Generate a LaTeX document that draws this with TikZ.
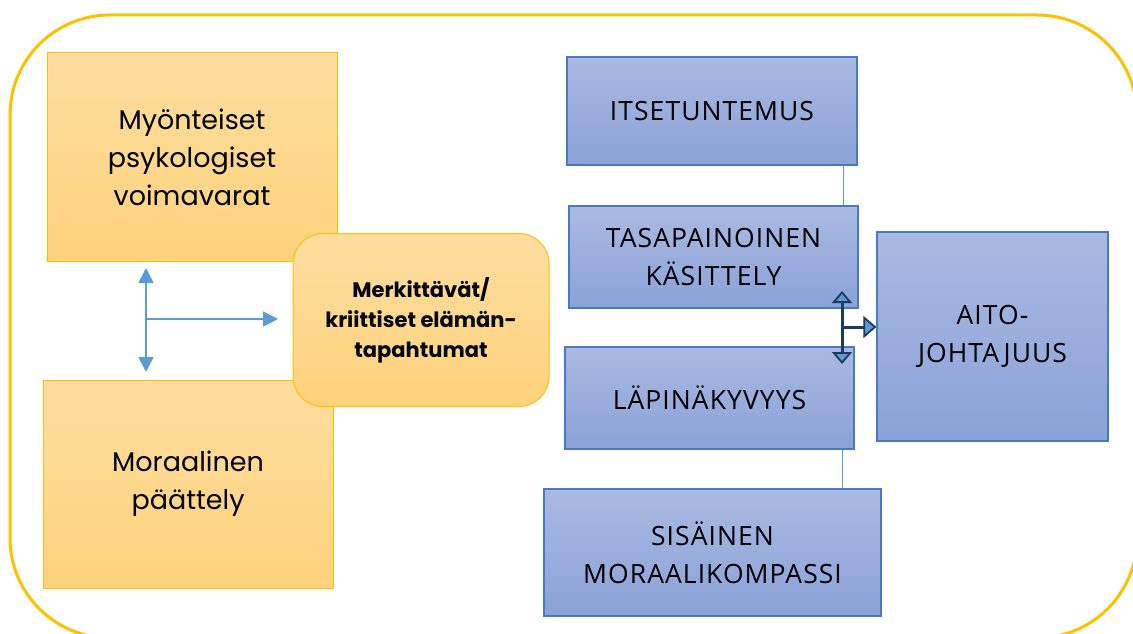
\documentclass[tikz,border=0pt]{standalone}
\usepackage{fontspec}
\setmainfont{Poppins}
\newfontfamily\bluefont[LetterSpace=4]{Open Sans}
\usetikzlibrary{arrows.meta}
\definecolor{gold}{HTML}{FFC000}
\definecolor{otop}{HTML}{FDDD9F}
\definecolor{obot}{HTML}{FED27C}
\definecolor{btop}{HTML}{AAB9E1}
\definecolor{bbot}{HTML}{8AA2D8}
\definecolor{bborder}{HTML}{4A78C8}
\definecolor{arrblue}{HTML}{5B9BD5}
\definecolor{darkarr}{HTML}{1F3A5F}
\tikzset{
  obox/.style={draw=gold, line width=1pt, top color=otop, bottom color=obot,
    inner sep=0pt, align=center, font=\fontsize{27}{38}\selectfont},
  bbox/.style={draw=bborder, line width=1.2pt, top color=btop, bottom color=bbot,
    inner sep=0pt, align=center, font=\bluefont\fontsize{26.5}{38}\selectfont},
  ltip/.tip={Triangle[length=15pt,width=15pt]},
  dtip/.tip={Triangle[length=12pt,width=20pt,fill=arrblue,line width=1.8pt]},
  dtipr/.tip={Triangle[length=13pt,width=22pt,fill=arrblue,line width=1.8pt]},
  larr/.style={draw=arrblue, line width=1.5pt, ltip-ltip},
  rarr/.style={draw=arrblue, line width=1.5pt, -ltip},
  conn/.style={draw=arrblue, line width=0.9pt}
}
\begin{document}
\begin{tikzpicture}[x=1pt,y=-1pt]
\useasboundingbox (0,0) rectangle (1133,634);
\draw[gold, line width=3pt, rounded corners=100pt] (10,15) rectangle (1137,638);
% left boxes
\node[obox, minimum width=290pt, minimum height=208pt] (myo) at (192,157) {Myönteiset\\psykologiset\\voimavarat};
\node[obox, minimum width=290pt, minimum height=208pt] (mor) at (188,484) {Moraalinen\\päättely};
\node[obox, rounded corners=30pt, minimum width=256pt, minimum height=173pt,
  font=\bfseries\fontsize{21}{30}\selectfont] (mer) at (421,320) {Merkittävät/\\kriittiset elämän-\\tapahtumat};
% left arrows
\coordinate (lt) at (146,268);
\coordinate (lb) at (146,372);
\coordinate (lj) at (146,319);
\coordinate (lr) at (278,319);
\draw[larr] (lt) -- (lb);
\draw[rarr] (lj) -- (lr);
% blue boxes
\node[bbox, minimum width=290pt, minimum height=108pt] (its) at (712,111) {ITSETUNTEMUS};
\node[bbox, minimum width=289pt, minimum height=102pt] (tas) at (713.5,257) {TASAPAINOINEN\\KÄSITTELY};
\node[bbox, minimum width=231pt, minimum height=209pt] (aito) at (992.5,336.5) {AITO-\\JOHTAJUUS};
\node[bbox, minimum width=289pt, minimum height=102pt] (lap) at (709.5,398) {LÄPINÄKYVYYS};
\node[bbox, minimum width=337pt, minimum height=127pt] (sis) at (712.5,552.5) {SISÄINEN\\MORAALIKOMPASSI};
% connectors
\coordinate (c1) at (843,0);
\coordinate (c2) at (842,0);
\draw[conn] (c1 |- its.south) -- (c1 |- tas.north);
\draw[conn] (c2 |- lap.south) -- (c2 |- sis.north);
% dark arrows
\coordinate (dt) at (842,291);
\coordinate (db) at (842,364);
\coordinate (dj) at (842,327);
\draw[darkarr, line width=3pt, dtip-dtip] (dt) -- (db);
\draw[darkarr, line width=3pt, -dtipr] (dj) -- (dj -| aito.west);
\end{tikzpicture}
\end{document}
